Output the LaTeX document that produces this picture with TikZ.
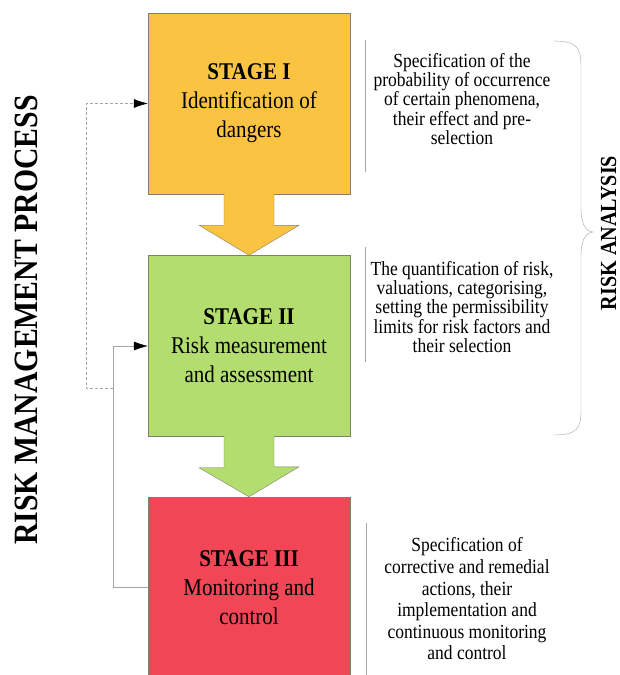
\documentclass[tikz,border=0pt]{standalone}
\usepackage{fontspec}
\setmainfont{Liberation Serif}
\newfontfamily\narrowserif[FakeStretch=0.875]{Liberation Serif}
\usepackage{xcolor}
\usetikzlibrary{arrows.meta, calc, positioning}
\definecolor{stageone}{RGB}{250,196,66}
\definecolor{stagetwo}{RGB}{179,222,111}
\definecolor{stagethree}{RGB}{240,70,86}
\definecolor{boxline}{RGB}{128,128,112}
\definecolor{thinline}{RGB}{165,165,165}

\tikzset{
  stagebox/.style={draw=boxline, thin, minimum width=202pt, minimum height=181pt,
    inner sep=0pt, align=center, font=\narrowserif\fontsize{24}{29}\selectfont},
  sidenote/.style={align=center, inner sep=0pt, font=\narrowserif\fontsize{20}{19.3}\selectfont},
  sidetitle/.style={rotate=90, inner sep=0pt},
  sideline/.style={draw=thinline, thin},
  feedline/.style={draw=thinline, thin, -{Latex[length=14pt,width=9pt,black]}},
  dashline/.style={feedline, dash pattern=on 3pt off 2pt}
}

\begin{document}
\begin{tikzpicture}[x=1pt,y=-1pt]
\useasboundingbox (0,0) rectangle (620,675);
% the three stages
\node[stagebox, fill=stageone] (box1) at (249,103.5) {\textbf{STAGE I}\\Identification of\\dangers};
\node[stagebox, fill=stagetwo] (box2) at (249,346) {\textbf{STAGE II}\\Risk measurement\\and assessment};
\node[stagebox, fill=stagethree] (box3) at (249,587.5) {\textbf{STAGE III}\\Monitoring and\\control};
% block arrows between the stages
\foreach \a/\b/\c in {box1/box2/stageone, box2/box3/stagetwo}
  \filldraw[fill=\c, draw=boxline, thin] ($(\a.south)+(-25,-0.5)$) -- ++(0,31.5) -- ++(-25,0)
    -- (\b.north) -- ++(50,-30) -- ++(-25,0) -- ++(0,-31.5);
% feedback lines
\coordinate (split) at (113,388);
\draw[feedline] (box3.west) -- ++(-35,0) |- (box2.west);
\draw[dashline] (split) -- ++(-27,0) |- (box1.west);
% notes on the right
\node[sidenote] (note1) at (462,99) {Specification of the\\probability of occurrence\\of certain phenomena,\\their effect and pre-\\selection};
\node[sidenote] (note2) at (462,307) {The quantification of risk,\\valuations, categorising,\\setting the permissibility\\limits for risk factors and\\their selection};
\node[sidenote, font=\narrowserif\fontsize{20}{21.6}\selectfont] (note3) at (467,599) {Specification of\\corrective and remedial\\actions, their\\implementation and\\continuous monitoring\\and control};
\draw[sideline] (365,40) -- (365,172);
\draw[sideline] (365,247) -- (365,362);
\draw[sideline] (366,523) -- (366,678);
% brace and titles
\draw[draw=thinline, thin] (553,41) .. controls (578,41) and (581,48) .. (581,68) -- (581,208)
  .. controls (581,226) and (587,232) .. (593,232) .. controls (587,232) and (581,238) .. (581,256)
  -- (581,410) .. controls (581,428) and (578,435) .. (553,435);
\node[sidetitle, font=\narrowserif\bfseries\fontsize{23}{23}\selectfont] (analysis) at (608.5,233) {RISK ANALYSIS};
\node[sidetitle, font=\narrowserif\bfseries\fontsize{34}{34}\selectfont] (process) at (26,320) {RISK MANAGEMENT PROCESS};
\end{tikzpicture}
\end{document}
